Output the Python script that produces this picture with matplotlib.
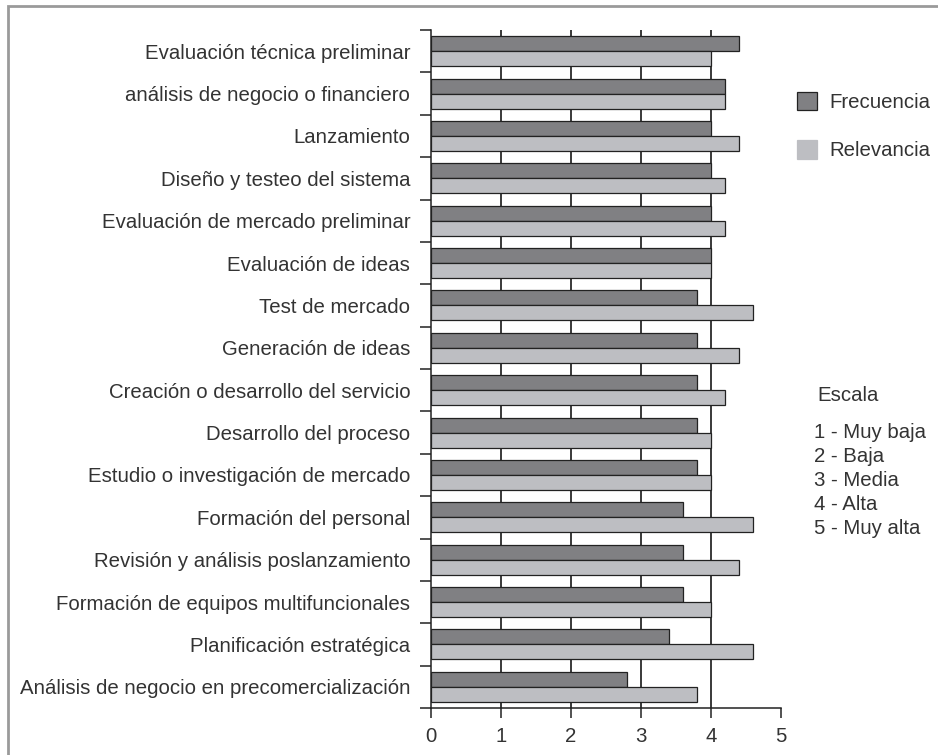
import numpy as np
import matplotlib
matplotlib.use("Agg")
import matplotlib.pyplot as plt
from matplotlib.patches import Rectangle

plt.rcParams["font.family"] = ["Liberation Sans", "DejaVu Sans"]

etapas = [
    "Evaluación técnica preliminar",
    "análisis de negocio o financiero",
    "Lanzamiento",
    "Diseño y testeo del sistema",
    "Evaluación de mercado preliminar",
    "Evaluación de ideas",
    "Test de mercado",
    "Generación de ideas",
    "Creación o desarrollo del servicio",
    "Desarrollo del proceso",
    "Estudio o investigación de mercado",
    "Formación del personal",
    "Revisión y análisis poslanzamiento",
    "Formación de equipos multifuncionales",
    "Planificación estratégica",
    "Análisis de negocio en precomercialización",
]
frecuencia = [4.4, 4.2, 4.0, 4.0, 4.0, 4.0, 3.8, 3.8, 3.8, 3.8, 3.8, 3.6, 3.6, 3.6, 3.4, 2.8]
relevancia = [4.0, 4.2, 4.4, 4.2, 4.2, 4.0, 4.6, 4.4, 4.2, 4.0, 4.0, 4.6, 4.4, 4.0, 4.6, 3.8]
series_names = ["Frecuencia", "Relevancia"]
escala_titulo = "Escala"
escala = ["1 - Muy baja", "2 - Baja", "3 - Media", "4 - Alta", "5 - Muy alta"]
x_ticks = [0, 1, 2, 3, 4, 5]

TXT = "#333333"
DARK = "#808083"
LIGHT = "#bdbec2"
EDGE = "#222222"
FS = 14.7

W, H = 938, 755
fig = plt.figure(figsize=(W / 100, H / 100), dpi=100)
ax = fig.add_axes([431 / W, 1 - 708 / H, 350 / W, 678 / H])

y = np.arange(len(etapas))
h = 0.354
b1 = ax.barh(y - h / 2, frecuencia, height=h, color=DARK, edgecolor=EDGE,
             linewidth=0.9, label=series_names[0], zorder=3)
b2 = ax.barh(y + h / 2, relevancia, height=h, color=LIGHT, edgecolor=EDGE,
             linewidth=0.9, label=series_names[1], zorder=3)

ax.set_xlim(0, 5)
ax.set_ylim(len(etapas) - 0.5, -0.5)

# category labels at centres, tick marks at the row boundaries
ax.set_yticks(y)
ax.set_yticklabels(etapas, fontsize=FS, color=TXT)
ax.set_yticks(np.arange(len(etapas) + 1) - 0.5, minor=True)
ax.tick_params(axis="y", which="major", length=0, pad=15)
ax.tick_params(axis="y", which="minor", length=8, width=1.1, color=EDGE)

ax.set_xticks(x_ticks)
ax.set_xticklabels([str(t) for t in x_ticks], fontsize=FS, color=TXT)
ax.tick_params(axis="x", length=7, width=1.1, color=EDGE, pad=7)

ax.grid(axis="x", color="#2a2a2a", linewidth=1.3, zorder=1)
ax.set_axisbelow(True)
for gl, t in zip(ax.get_xgridlines(), x_ticks):
    if t in (0, 5):
        gl.set_visible(False)

for s in ("top", "right"):
    ax.spines[s].set_visible(False)
for s in ("left", "bottom"):
    ax.spines[s].set_color(EDGE)
    ax.spines[s].set_linewidth(1.1)

leg = fig.legend(handles=[b1, b2], loc="upper left",
                 bbox_to_anchor=(797 / W, 1 - 92 / H), frameon=False,
                 borderpad=0, borderaxespad=0,
                 fontsize=FS, handlelength=1.0, handleheight=1.0,
                 handletextpad=0.6, labelspacing=1.38)
for t in leg.get_texts():
    t.set_color(TXT)
leg.legend_handles[1].set_edgecolor(LIGHT)

fig.text(817 / W, 1 - 396 / H, escala_titulo, fontsize=FS, color=TXT, va="center")
for i, s in enumerate(escala):
    fig.text(814 / W, 1 - (432 + 24 * i) / H, s, fontsize=FS, color=TXT, va="center")

# grey frame around the figure
fig.patches.append(Rectangle((8 / W, -0.05), 1.0, 1 - 6 / H + 0.05,
                             transform=fig.transFigure, fill=False,
                             edgecolor="#9a9a9a", linewidth=2))

fig.savefig("out.png", dpi=100)
